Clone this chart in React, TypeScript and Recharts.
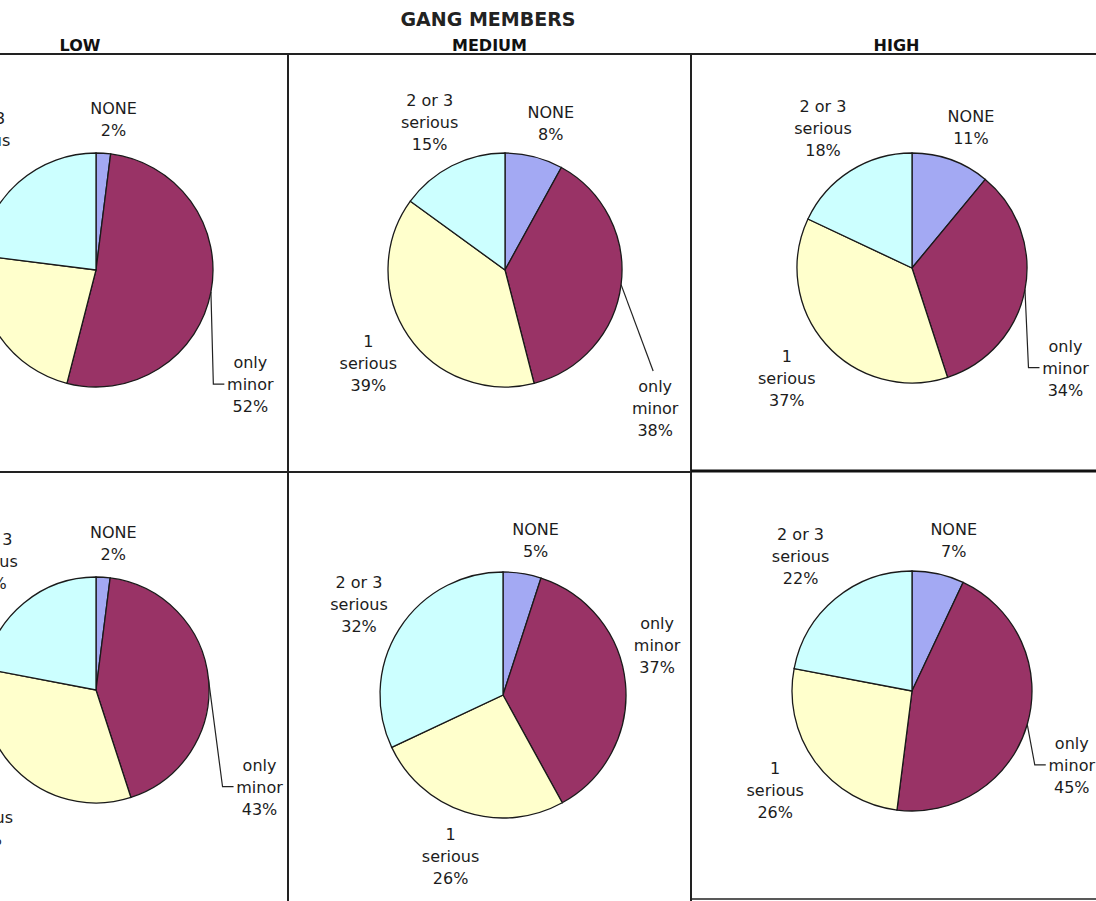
import React from 'react';
import { PieChart, Pie, Cell } from 'recharts';

// ---------- data ----------
const chartTitle = 'GANG MEMBERS';
const groupLabels = ['LOW', 'MEDIUM', 'HIGH'];
const categories = ['NONE', 'only minor', '1 serious', '2 or 3 serious'];
const categoryLines = [['NONE'], ['only', 'minor'], ['1', 'serious'], ['2 or 3', 'serious']];

const lowTop = [2, 52, 23, 23];
const mediumTop = [8, 38, 39, 15];
const highTop = [11, 34, 37, 18];
const lowBottom = [2, 43, 33, 22];
const mediumBottom = [5, 37, 26, 32];
const highBottom = [7, 45, 26, 22];

// ---------- styles / layout ----------
const W = 1096;
const H = 901;
const COLORS = ['#a3a9f3', '#993366', '#ffffcc', '#ccffff'];
const HALF_W = [24, 24, 30, 30];
const X_BIAS = [8, 0, 0, 0];
const LINE_H = 22;
const GAP = 12;
const RAD = Math.PI / 180;
const FONT = "'DejaVu Sans', Verdana, sans-serif";

const COL_BOUNDS = [-128, 288, 691, 1102];
const TOP_LINE_Y = 54;
const MID_LINE_Y = 471;

type Nudge = { angle: number; extra: number; leader: boolean };
type Panel = { values: number[]; cx: number; cy: number; r: number; minor: Nudge };

const PANELS: Panel[] = [
  { values: lowTop, cx: 96, cy: 270, r: 117, minor: { angle: 126.5, extra: 75, leader: true } },
  { values: mediumTop, cx: 505, cy: 270, r: 117, minor: { angle: 132.6, extra: 87, leader: true } },
  { values: highTop, cx: 912, cy: 268, r: 115, minor: { angle: 123, extra: 68, leader: true } },
  { values: lowBottom, cx: 96, cy: 690, r: 113, minor: { angle: 120.6, extra: 77, leader: true } },
  { values: mediumBottom, cx: 503, cy: 695, r: 123, minor: { angle: 72, extra: 39, leader: false } },
  { values: highBottom, cx: 912, cy: 691, r: 120, minor: { angle: 114.8, extra: 56, leader: true } },
];

function makeLabel(panel: Panel) {
  return (props: any) => {
    const { cx, cy, midAngle, outerRadius, index, value } = props;
    const lines = [...categoryLines[index], `${value}%`];
    const halfH = (lines.length * LINE_H) / 2;
    const halfW = HALF_W[index];
    const ux = Math.cos(midAngle * RAD);
    const uy = -Math.sin(midAngle * RAD);
    let lx: number;
    let ly: number;
    const nudge = index === 1 ? panel.minor : null;
    if (nudge) {
      const a = nudge.angle * RAD;
      lx = cx + (outerRadius + nudge.extra) * Math.sin(a);
      ly = cy - (outerRadius + nudge.extra) * Math.cos(a);
    } else {
      const dx = Math.abs(ux) > 1e-6 ? halfW / Math.abs(ux) : Infinity;
      const dy = Math.abs(uy) > 1e-6 ? halfH / Math.abs(uy) : Infinity;
      const d = Math.min(dx, dy);
      lx = cx + (outerRadius + GAP + d) * ux + X_BIAS[index];
      ly = cy + (outerRadius + GAP + d) * uy;
    }
    let path: string | null = null;
    if (nudge && nudge.leader) {
      const ex = cx + outerRadius * ux;
      const ey = cy + outerRadius * uy;
      const labelLeft = lx - halfW;
      if (ex < labelLeft - 12) {
        const elbowX = Math.max(ex + 2, labelLeft - 13);
        path = `M${ex},${ey} L${elbowX},${ly} L${labelLeft - 2},${ly}`;
      } else {
        path = `M${ex},${ey} L${lx - 2},${ly - halfH - 4}`;
      }
    }
    return (
      <g key={`lbl-${index}`}>
        {path && <path d={path} fill="none" stroke="#222" strokeWidth={1.2} />}
        <text textAnchor="middle" fontSize={16} fontFamily={FONT} fill="#1c1c1c">
          {lines.map((t, i) => (
            <tspan key={i} x={lx} y={ly + (i - (lines.length - 1) / 2) * LINE_H + 6}>
              {t}
            </tspan>
          ))}
        </text>
      </g>
    );
  };
}

export default function App() {
  return (
    <div style={{ position: 'absolute', left: 0, top: 0, width: W, height: H, background: '#fff', overflow: 'hidden' }}>
      <PieChart width={W} height={H} margin={{ top: 0, right: 0, bottom: 0, left: 0 }}>
        {PANELS.map((p, pi) => (
          <Pie
            key={pi}
            data={p.values.map((v, i) => ({ name: categories[i], value: v }))}
            dataKey="value"
            nameKey="name"
            cx={p.cx}
            cy={p.cy}
            outerRadius={p.r}
            innerRadius={0}
            startAngle={90}
            endAngle={-270}
            stroke="#1a1a1a"
            strokeWidth={1.3}
            label={makeLabel(p)}
            labelLine={false}
            isAnimationActive={false}
          >
            {p.values.map((_, i) => (
              <Cell key={i} fill={COLORS[i]} />
            ))}
          </Pie>
        ))}
      </PieChart>
      <svg width={W} height={H} style={{ position: 'absolute', left: 0, top: 0, pointerEvents: 'none' }}>
        <text x={488} y={26} textAnchor="middle" fontSize={19} fontWeight="bold" fontFamily={FONT} fill="#222">
          {chartTitle}
        </text>
        {groupLabels.map((g, i) => (
          <text
            key={g}
            x={(COL_BOUNDS[i] + COL_BOUNDS[i + 1]) / 2}
            y={51}
            textAnchor="middle"
            fontSize={16}
            fontWeight="bold"
            fontFamily={FONT}
            fill="#111"
          >
            {g}
          </text>
        ))}
        <line x1={0} x2={W} y1={TOP_LINE_Y} y2={TOP_LINE_Y} stroke="#222" strokeWidth={2} />
        <line x1={COL_BOUNDS[1]} x2={COL_BOUNDS[1]} y1={TOP_LINE_Y} y2={H} stroke="#222" strokeWidth={2} />
        <line x1={COL_BOUNDS[2]} x2={COL_BOUNDS[2]} y1={TOP_LINE_Y} y2={H} stroke="#222" strokeWidth={2} />
        <line x1={0} x2={COL_BOUNDS[2]} y1={MID_LINE_Y + 1} y2={MID_LINE_Y + 1} stroke="#222" strokeWidth={2} />
        <line x1={COL_BOUNDS[2]} x2={W} y1={MID_LINE_Y} y2={MID_LINE_Y} stroke="#111" strokeWidth={3} />
        <line x1={COL_BOUNDS[2]} x2={W} y1={H - 2} y2={H - 2} stroke="#222" strokeWidth={1.5} />
      </svg>
    </div>
  );
}
